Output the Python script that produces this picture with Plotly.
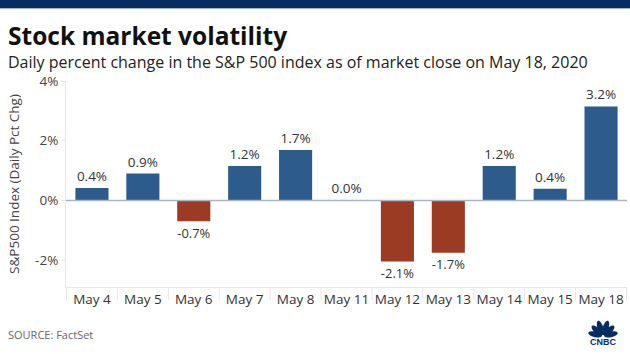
import math
import plotly.graph_objects as go

# ---- data ----
dates = ["May 4", "May 5", "May 6", "May 7", "May 8", "May 11",
         "May 12", "May 13", "May 14", "May 15", "May 18"]
pct_change = [0.42, 0.90, -0.70, 1.15, 1.69, 0.01, -2.05, -1.75, 1.15, 0.39, 3.15]
value_labels = ["0.4%", "0.9%", "-0.7%", "1.2%", "1.7%", "0.0%",
                "-2.1%", "-1.7%", "1.2%", "0.4%", "3.2%"]
y_tick_vals = [-2, 0, 2, 4]
y_tick_text = ["-2%", "0%", "2%", "4%"]

BLUE = "#2d5b8c"
RED = "#9c3b23"
NAVY = "#062d63"
FONT = "Open Sans"

W, H = 630, 354
ML, MR, MT, MB = 66, 3, 81, 67
PW, PH = W - ML - MR, H - MT - MB


def px(x):
    return (x - ML) / PW


def py(y):
    return (H - MB - y) / PH


colors = [BLUE if v >= 0 else RED for v in pct_change]

fig = go.Figure()
fig.add_trace(go.Bar(
    x=dates, y=pct_change, marker=dict(color=colors, line=dict(width=0)),
    width=0.65, text=value_labels, textposition="outside",
    textfont=dict(family=FONT, size=13.5, color="#333333"),
    cliponaxis=False, hoverinfo="skip",
))

shapes = []
# top navy band
shapes.append(dict(type="rect", xref="paper", yref="paper", x0=px(0), x1=px(W),
                   y0=py(8), y1=py(0), fillcolor=NAVY, line=dict(width=0), layer="above"))
shapes.append(dict(type="line", xref="paper", yref="paper", x0=px(0), x1=px(W),
                   y0=py(8.5), y1=py(8.5), line=dict(color="#9fb3c8", width=1)))
# category boundary separators below axis
for i in range(len(dates) + 1):
    shapes.append(dict(type="line", xref="x", yref="paper", x0=i - 0.5, x1=i - 0.5,
                       y0=0, y1=py(300), line=dict(color="#e6e6e6", width=1)))
# zero line
shapes.append(dict(type="line", xref="paper", yref="y", x0=0, x1=1, y0=0, y1=0,
                   line=dict(color="#aab4c2", width=1.5), layer="above"))

# CNBC peacock feathers
bx, by = 603, 336
for k, ang in enumerate([12, 42, 72, 108, 138, 168]):
    t = math.radians(ang)
    length = 15 if k in (2, 3) else 14
    a, b = length / 2, 2.9
    cx, cy = bx + math.cos(t) * (a + 1), by - math.sin(t) * (a + 1)
    pts = []
    for j in range(20):
        s = 2 * math.pi * j / 20
        ex, ey = a * math.cos(s), b * math.sin(s)
        X = cx + ex * math.cos(t) - ey * math.sin(t)
        Y = cy - (ex * math.sin(t) + ey * math.cos(t))
        pts.append((px(X), py(Y)))
    path = "M " + " L ".join(f"{p[0]:.5f},{p[1]:.5f}" for p in pts) + " Z"
    shapes.append(dict(type="path", xref="paper", yref="paper", path=path,
                       fillcolor=NAVY, line=dict(width=0)))

annotations = [
    dict(text="<b>Stock market volatility</b>", x=px(6), y=py(35), xref="paper", yref="paper",
         xanchor="left", yanchor="middle", showarrow=False,
         font=dict(family=FONT, size=24.5, color="#111111")),
    dict(text="Daily percent change in the S&P 500 index as of market close on May 18, 2020",
         x=px(6), y=py(62), xref="paper", yref="paper", xanchor="left", yanchor="middle",
         showarrow=False, font=dict(family=FONT, size=16, color="#222222")),
    dict(text="SOURCE: FactSet", x=px(6), y=py(334), xref="paper", yref="paper",
         xanchor="left", yanchor="middle", showarrow=False,
         font=dict(family=FONT, size=11, color="#666666")),
    dict(text="<b>CNBC</b>", x=px(603), y=py(342), xref="paper", yref="paper",
         xanchor="center", yanchor="middle", showarrow=False,
         font=dict(family="Liberation Sans", size=9, color=NAVY)),
]

fig.update_layout(
    width=W, height=H, margin=dict(l=ML, r=MR, t=MT, b=MB),
    paper_bgcolor="white", plot_bgcolor="white", showlegend=False,
    shapes=shapes, annotations=annotations,
    xaxis=dict(type="category", showgrid=False, showline=True, linecolor="#e6e6e6",
               linewidth=1, ticks="", tickfont=dict(family=FONT, size=13.5, color="#333333"),
               fixedrange=True),
    yaxis=dict(range=[-2.9, 4.0], tickvals=y_tick_vals, ticktext=y_tick_text,
               showgrid=False, zeroline=False, showline=True, linecolor="#e6e6e6",
               ticks="outside", ticklen=4, tickcolor="#e6e6e6",
               tickfont=dict(family=FONT, size=13.5, color="#444444"),
               title=dict(text="S&P500 Index (Daily Pct Chg)", standoff=12,
                          font=dict(family=FONT, size=13.5, color="#444444")),
               fixedrange=True),
    bargap=0.35,
)

fig.write_html("out.html")
